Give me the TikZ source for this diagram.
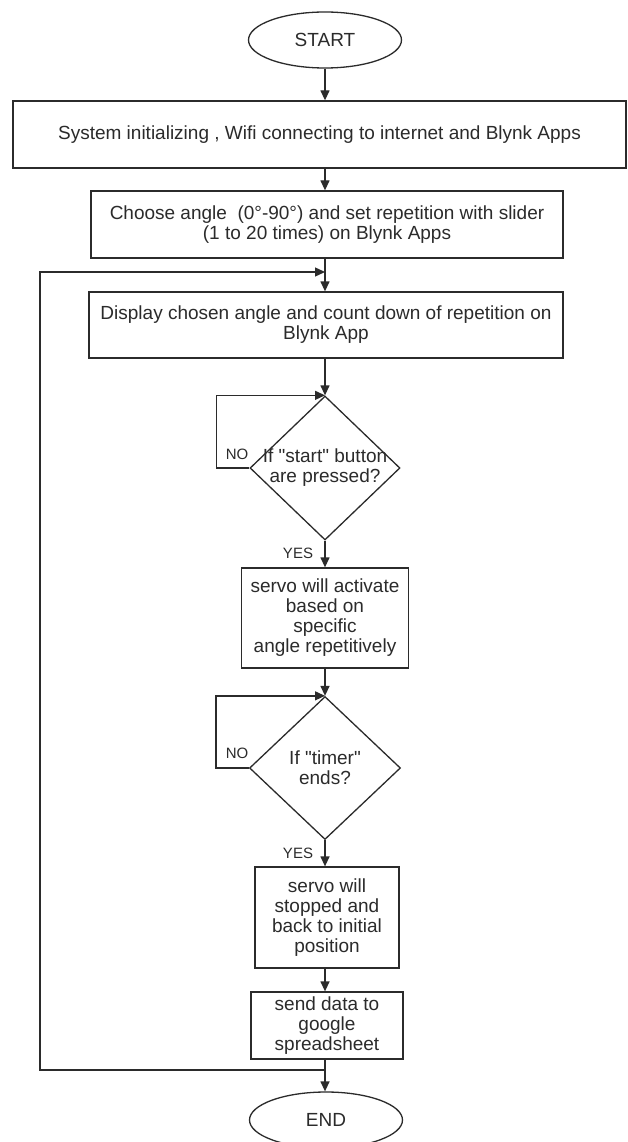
\documentclass[tikz,border=0pt]{standalone}
\usepackage{fontspec}
\setmainfont{Liberation Sans}
\usetikzlibrary{shapes.geometric,arrows.meta,calc}
\definecolor{ink}{HTML}{2B2B2B}
\newcommand{\dq}{\textquotedbl}
\begin{document}
\begin{tikzpicture}[x=1pt,y=-1pt,
  every node/.style={text=ink},
  box/.style={draw=ink,line width=1.3pt,rectangle,align=center,inner sep=0pt,font=\fontsize{19}{20}\selectfont},
  term/.style={draw=ink,line width=1.3pt,ellipse,inner sep=0pt,font=\fontsize{19}{20}\selectfont},
  decide/.style={draw=ink,line width=1.3pt,diamond,inner sep=0pt},
  arr/.style={draw=ink,line width=1.3pt,-{Triangle[length=10pt,width=9pt]}},
  lab/.style={font=\fontsize{15}{17}\selectfont,inner sep=0pt},
  qtext/.style={align=center,inner sep=0pt,font=\fontsize{19}{20}\selectfont,text=ink}
]
\fill[white] (0,0) rectangle (627,1142);
\useasboundingbox (0,0) rectangle (627,1142);

\node[term,minimum width=153pt,minimum height=56pt] (start) at (325,40) {START};
\node[box,minimum width=613pt,minimum height=67pt] (sys) at (319.5,134.5) {System initializing , Wifi connecting to internet and Blynk Apps};
\node[box,minimum width=472pt,minimum height=67pt] (choose) at (327,224.5) {Choose angle\ \ (0°-90°) and set repetition with slider\\(1 to 20 times) on Blynk Apps};
\node[box,minimum width=474pt,minimum height=66pt] (disp) at (326,325) {Display chosen angle and count down of repetition on\\Blynk App};
\node[decide,minimum width=150pt,minimum height=144pt,label={[qtext]center:{If \dq start\dq{} button\\are pressed?}}] (d1) at (325,468) {};
\node[box,minimum width=167pt,minimum height=100pt] (servo) at (325,618) {servo will activate\\based on\\specific\\angle repetitively};
\node[decide,minimum width=151pt,minimum height=143pt,label={[qtext]center:{If \dq timer\dq\\ends?}}] (d2) at (325,768) {};
\node[box,minimum width=144pt,minimum height=101pt] (stop) at (327,917.5) {servo will\\stopped and\\back to initial\\position};
\node[box,minimum width=152pt,minimum height=67pt] (send) at (327,1025.5) {send data to\\google\\spreadsheet};
\node[term,minimum width=153pt,minimum height=56pt] (end) at (326,1120) {END};

\node[lab] (no1) at (237,454) {NO};
\node[lab] (yes1) at (298,553) {YES};
\node[lab] (no2) at (237,753) {NO};
\node[lab] (yes2) at (298,853) {YES};

\draw[arr] (start.south) -- (start.south |- sys.north);
\draw[arr] (sys.south -| start.south) -- (choose.north -| start.south);
\draw[arr] (choose.south -| start.south) -- (disp.north -| start.south);
\draw[arr] (disp.south -| d1.north) -- (d1.north);
\draw[arr] (d1.south) -- (servo.north -| d1.south);
\draw[arr] (d1.west) -- ++(-33,0) |- (d1.north);
\draw[arr] (servo.south -| d2.north) -- (d2.north);
\draw[arr] (d2.south) -- (stop.north -| d2.south);
\draw[arr] (d2.west) -- ++(-33,0) |- (d2.north);
\draw[arr] (stop.south -| d2.south) -- (send.north -| d2.south);
\draw[arr] (send.south -| d2.south) -- (end.north -| d2.south);

\coordinate (jb) at (325,1070);
\coordinate (lb) at (40,1070);
\coordinate (jt) at (325,272);
\draw[arr] (jb) -- (lb) |- (jt);
\end{tikzpicture}
\end{document}
